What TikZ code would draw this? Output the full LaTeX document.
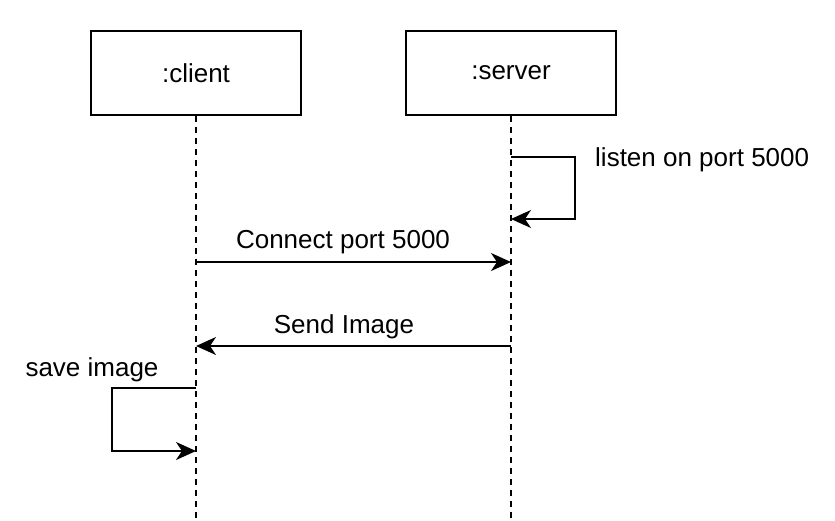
\documentclass[tikz,border=0pt]{standalone}
\usepackage{fontspec}
\setmainfont{Liberation Sans}
\usetikzlibrary{arrows.meta}
\begin{document}
\begin{tikzpicture}[x=1pt,y=-1pt,
  obj/.style={draw,line width=1.5pt,minimum width=210pt,minimum height=84pt,inner sep=0pt,font=\fontsize{26}{30}\selectfont},
  life/.style={line width=1.5pt,dash pattern=on 6pt off 5pt},
  msg/.style={line width=1.5pt,-{Stealth[length=20pt,width=18pt,inset=6pt]}},
  lbl/.style={inner sep=0pt,font=\fontsize{26}{30}\selectfont}]
\useasboundingbox (0,0) rectangle (835,520);
\node[obj] (client) at (196,73) {:client};
\node[obj] (server) at (511,73) {:server};
\coordinate (cend) at (196,520);
\coordinate (send) at (511,520);
\draw[life] (client.south) -- (cend);
\draw[life] (server.south) -- (send);
% self message on server
\coordinate (s1) at (511,157);
\coordinate (s2) at (511,219);
\draw[msg] (s1) -- (575,157) -- (575,219) -- (s2);
\node[lbl,anchor=west] (listen) at (595,160) {listen on port 5000};
% connect
\coordinate (c3) at (196,262);
\coordinate (s3) at (511,262);
\draw[msg] (c3) -- (s3);
\node[lbl] (connect) at (343,242) {Connect port 5000};
% send image
\coordinate (s4) at (511,346);
\coordinate (c4) at (196,346);
\draw[msg] (s4) -- (c4);
\node[lbl] (sendimg) at (344,327) {Send Image};
% save image
\coordinate (c5) at (196,388);
\coordinate (c6) at (196,451);
\draw[msg] (c5) -- (112,388) -- (112,451) -- (c6);
\node[lbl] (save) at (92,370) {save image};
\end{tikzpicture}
\end{document}
